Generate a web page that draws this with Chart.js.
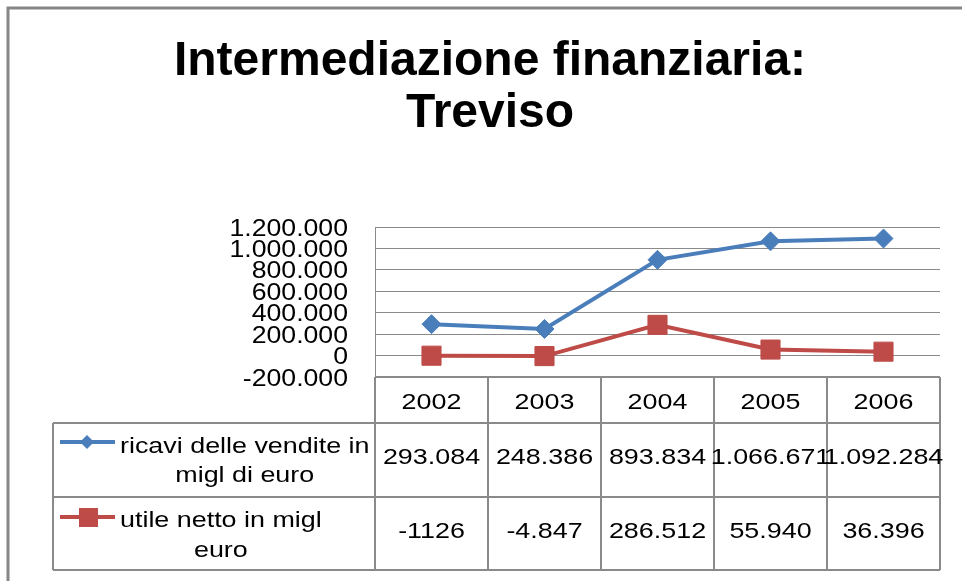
<!DOCTYPE html>
<html lang="it">
<head>
<meta charset="utf-8">
<title>Intermediazione finanziaria: Treviso</title>
<script src="https://cdn.jsdelivr.net/npm/chart.js@4.4.0/dist/chart.umd.min.js"></script>
<style>
  html, body { margin: 0; padding: 0; background: #fff; }
  #wrap { width: 962px; height: 581px; }
</style>
</head>
<body>
<div id="wrap"><canvas id="grafico" width="962" height="581"></canvas></div>
<script>
const anni = ['2002', '2003', '2004', '2005', '2006'];
// valori in migliaia di euro, scritti come in tabella
const ricaviTesto = ['293.084', '248.386', '893.834', '1.066.671', '1.092.284'];
const utileTesto = ['-1126', '-4.847', '286.512', '55.940', '36.396'];
const nomeRicavi = ['ricavi delle vendite in', 'migl di euro'];
const nomeUtile = ['utile netto in migl', 'euro'];
const titolo = ['Intermediazione finanziaria:', 'Treviso'];

const blu = '#4a7ebb';
const rosso = '#be4b48';
const grigio = '#8a8a8a';
const FONT = '"Liberation Sans", Arial, sans-serif';

function numero(s) { return Number(s.replace(/\./g, '')); }
function formatta(v) {
  const s = String(Math.abs(v)).replace(/\B(?=(\d{3})+(?!\d))/g, '.');
  return v < 0 ? '-' + s : s;
}

const ricavi = ricaviTesto.map(numero);
const utile = utileTesto.map(numero);

// testo allargato in orizzontale
function testo(ctx, txt, x, y, font, sx, align) {
  ctx.save();
  ctx.font = font;
  ctx.fillStyle = '#000';
  ctx.textAlign = align || 'center';
  ctx.textBaseline = 'alphabetic';
  ctx.translate(x, y);
  ctx.scale(sx, 1);
  ctx.fillText(txt, 0, 0);
  ctx.restore();
}

function larghezza(ctx, txt, font, sx) {
  ctx.save();
  ctx.font = font;
  const w = ctx.measureText(txt).width * sx;
  ctx.restore();
  return w;
}

function linea(ctx, x1, y1, x2, y2) {
  ctx.beginPath();
  ctx.moveTo(x1, y1);
  ctx.lineTo(x2, y2);
  ctx.stroke();
}

const tabella = {
  id: 'tabella',
  afterDraw(chart) {
    const ctx = chart.ctx;
    const area = chart.chartArea;
    const sx = chart.scales.x;
    const sy = chart.scales.y;

    // cornice esterna
    ctx.save();
    ctx.strokeStyle = '#868686';
    ctx.lineWidth = 3;
    ctx.beginPath();
    ctx.moveTo(8, 581);
    ctx.lineTo(8, 8);
    ctx.lineTo(962, 8);
    ctx.stroke();
    ctx.restore();

    // titolo
    const fTit = 'bold 48px ' + FONT;
    testo(ctx, titolo[0], 490, 75, fTit, 1);
    testo(ctx, titolo[1], 490, 127, fTit, 1);

    // etichette asse y
    const fTick = '24px ' + FONT;
    sy.ticks.forEach(t => {
      const yy = sy.getPixelForValue(t.value);
      testo(ctx, formatta(t.value), 348, yy + 8.5, fTick, 1.11, 'right');
    });

    // tabella dati
    const centri = anni.map((_, i) => sx.getPixelForValue(i));
    const passo = centri[1] - centri[0];
    const bordi = [area.left].concat(centri.map(c => c + passo / 2));
    const sinistra = 53;
    const righe = [area.bottom, 423, 497, 570];

    ctx.save();
    ctx.strokeStyle = grigio;
    ctx.lineWidth = 2;
    linea(ctx, area.left, righe[0], area.right, righe[0]);
    for (let r = 1; r < righe.length; r++) linea(ctx, sinistra, righe[r], area.right, righe[r]);
    linea(ctx, sinistra, righe[1], sinistra, righe[3]);
    bordi.forEach(b => linea(ctx, b, righe[0], b, righe[3]));
    ctx.restore();

    const fCella = '21.5px ' + FONT;
    const k = 1.25;
    centri.forEach((c, i) => {
      testo(ctx, anni[i], c, 409, fCella, k);
      testo(ctx, ricaviTesto[i], c, 464, fCella, k);
      testo(ctx, utileTesto[i], c, 538, fCella, k);
    });

    // legenda nelle righe
    function nome(righeTesto, y1, y2) {
      const w = Math.max(...righeTesto.map(t => larghezza(ctx, t, fCella, k)));
      const cx = 120 + w / 2;
      testo(ctx, righeTesto[0], cx, y1, fCella, k);
      testo(ctx, righeTesto[1], cx, y2, fCella, k);
    }

    ctx.save();
    ctx.lineWidth = 4;
    ctx.strokeStyle = blu;
    linea(ctx, 60, 442, 115, 442);
    ctx.fillStyle = blu;
    ctx.beginPath();
    ctx.moveTo(87, 435);
    ctx.lineTo(94, 442);
    ctx.lineTo(87, 449);
    ctx.lineTo(80, 442);
    ctx.closePath();
    ctx.fill();
    ctx.strokeStyle = rosso;
    linea(ctx, 60, 517, 115, 517);
    ctx.fillStyle = rosso;
    ctx.fillRect(79, 508, 19, 19);
    ctx.restore();

    nome(nomeRicavi, 453, 482);
    nome(nomeUtile, 527, 557);
  }
};

new Chart(document.getElementById('grafico'), {
  type: 'line',
  data: {
    labels: anni,
    datasets: [
      {
        label: nomeRicavi.join(' '),
        data: ricavi,
        borderColor: blu,
        backgroundColor: blu,
        borderWidth: 4,
        tension: 0,
        pointStyle: 'rectRot',
        pointRadius: 9.5,
        pointBorderWidth: 1
      },
      {
        label: nomeUtile.join(' '),
        data: utile,
        borderColor: rosso,
        backgroundColor: rosso,
        borderWidth: 4,
        tension: 0,
        pointStyle: 'rect',
        pointRadius: 13.5,
        pointBorderWidth: 1
      }
    ]
  },
  options: {
    responsive: false,
    animation: false,
    layout: { padding: { left: 30, top: 227, right: 22, bottom: 204 } },
    plugins: {
      legend: { display: false },
      title: { display: false },
      tooltip: { enabled: false }
    },
    scales: {
      x: { display: false, offset: true },
      y: {
        min: -200000,
        max: 1200000,
        afterFit: s => { s.width = 345; },
        ticks: { stepSize: 200000, display: false, autoSkip: false },
        grid: { color: grigio, lineWidth: 1, drawTicks: false },
        border: { display: true, color: grigio, width: 1 }
      }
    }
  },
  plugins: [tabella]
});
</script>
</body>
</html>
